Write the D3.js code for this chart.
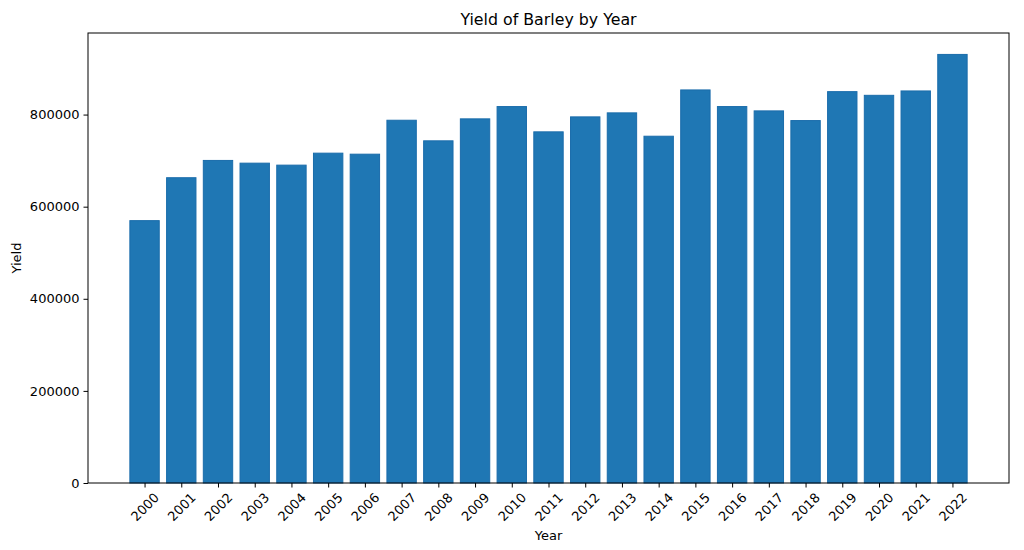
<!DOCTYPE html>
<html>
<head>
<meta charset="utf-8">
<script src="https://cdn.jsdelivr.net/npm/d3@7"></script>
<style>
  body { margin: 0; background: #fff; }
  svg, svg text { font-family: "DejaVu Sans", sans-serif; }
</style>
</head>
<body>
<div id="chart"></div>
<script>
// data
const years = ['2000', '2001', '2002', '2003', '2004', '2005', '2006', '2007', '2008', '2009', '2010', '2011',
    '2012', '2013', '2014', '2015', '2016', '2017', '2018', '2019', '2020', '2021', '2022'];
const yields = [569700, 662900, 700400, 694500, 690200, 716200, 714000, 787700, 743000, 790700, 817400, 762500,
    795000, 803700, 753000, 853500, 817400, 808000, 787000, 849800, 841800, 851300, 930600];
const yTicks = [0, 200000, 400000, 600000, 800000];

const W = 1024, H = 550;
const margin = { top: 33, right: 15, bottom: 67, left: 88 };
const width = W - margin.left - margin.right;
const height = H - margin.top - margin.bottom;
const font = '"DejaVu Sans", sans-serif';

const svg = d3.select('#chart').append('svg')
    .attr('width', W)
    .attr('height', H);

const g = svg.append('g')
    .attr('transform', `translate(${margin.left},${margin.top})`);

// matplotlib-like: bars at integer positions, width 0.8, 5% margins
const n = years.length;
const span = (n - 1) + 0.8;
const pad = span * 0.05;
const x = d3.scaleLinear()
    .domain([-0.4 - pad, n - 1 + 0.4 + pad])
    .range([0, width]);

const yMax = d3.max(yields) * 1.05;
const y = d3.scaleLinear()
    .domain([0, yMax])
    .range([height, 0]);

g.selectAll('rect.bar')
    .data(yields)
    .enter()
    .append('rect')
    .attr('class', 'bar')
    .attr('x', (d, i) => x(i - 0.4))
    .attr('width', x(0.8) - x(0))
    .attr('y', d => y(d))
    .attr('height', d => y(0) - y(d))
    .attr('fill', '#1f77b4')
    .attr('stroke', '#1a6cab')
    .attr('stroke-width', 1);

// y axis
const yAxis = g.append('g')
    .call(d3.axisLeft(y).tickValues(yTicks).tickFormat(d3.format('d')).tickSize(4.5).tickPadding(4));
yAxis.attr('font-family', font);
yAxis.select('.domain').remove();
yAxis.selectAll('text').attr('font-size', '13px').attr('fill', '#000');
yAxis.selectAll('line').attr('stroke', '#000');

// x axis
const xAxis = g.append('g')
    .attr('transform', `translate(0,${height})`)
    .call(d3.axisBottom(x).tickValues(d3.range(n)).tickFormat(i => years[i]).tickSize(4.5));
xAxis.attr('font-family', font);
xAxis.select('.domain').remove();
xAxis.selectAll('line').attr('stroke', '#000');
xAxis.selectAll('text')
    .attr('font-size', '13px')
    .attr('fill', '#000')
    .attr('y', 0)
    .attr('dy', null)
    .attr('text-anchor', 'middle')
    .attr('dominant-baseline', 'central')
    .attr('transform', 'translate(0,24) rotate(-45)');

// frame
g.append('rect')
    .attr('width', width)
    .attr('height', height)
    .attr('fill', 'none')
    .attr('stroke', '#000')
    .attr('stroke-width', 1);

// title and axis labels
svg.append('text')
    .attr('x', margin.left + width / 2)
    .attr('y', 25)
    .attr('text-anchor', 'middle')
    .attr('font-size', '15.8px')
    .text('Yield of Barley by Year');

svg.append('text')
    .attr('x', margin.left + width / 2)
    .attr('y', 540)
    .attr('text-anchor', 'middle')
    .attr('font-size', '13px')
    .text('Year');

svg.append('text')
    .attr('transform', `translate(21,${margin.top + height / 2}) rotate(-90)`)
    .attr('text-anchor', 'middle')
    .attr('font-size', '13px')
    .text('Yield');
</script>
</body>
</html>
